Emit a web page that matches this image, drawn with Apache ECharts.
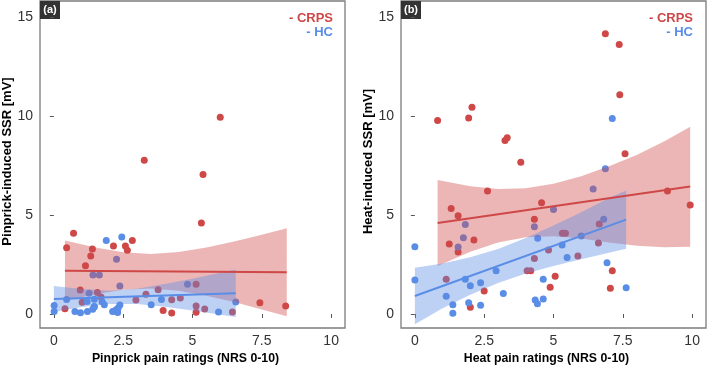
<!DOCTYPE html>
<html><head><meta charset="utf-8">
<script src="https://cdn.jsdelivr.net/npm/echarts@6/dist/echarts.min.js"></script>
<style>html,body{margin:0;padding:0;background:#fff}#c{width:709px;height:366px}</style>
</head><body><div id="c"></div>
<script>
// ---------- data ----------
const xTicks = [0, 2.5, 5, 7.5, 10];
const yTicks = [0, 5, 10, 15];
const groups = ['CRPS', 'HC'];

// Panel (a) Pinprick
const pinCrpsX = [0.46,0.71,0.40,1.33,1.39,1.14,0.95,1.02,1.57,1.70,2.15,2.58,2.65,2.83,2.96,3.26,3.32,3.76,3.94,4.25,4.25,4.56,5.13,5.13,5.13,5.32,5.38,5.44,6.00,6.44,7.43,8.36];
const pinCrpsY = [3.35,4.08,0.27,2.93,3.29,2.44,1.21,0.59,1.09,0.86,3.44,3.44,3.22,3.72,0.70,7.77,1.00,1.23,0.17,0.72,0.05,0.81,1.50,0.40,0.09,4.60,7.06,0.25,9.95,0.10,0.57,0.40];
const pinHcX = [0.01,0.01,0.46,0.76,0.96,1.21,1.20,1.27,1.40,1.46,1.46,1.45,1.41,1.64,1.74,1.82,1.89,2.26,2.38,2.45,2.12,2.20,2.26,2.32,2.38,2.30,3.51,3.88,4.82,5.94,6.56];
const pinHcY = [0.43,0.13,0.73,0.13,0.06,0.12,0.63,1.05,0.24,0.38,0.75,0.35,1.97,1.97,0.62,0.46,3.72,2.77,1.42,3.89,0.12,0.16,0.22,0.30,0.45,0.08,0.46,0.73,1.50,0.10,0.61];
// fit lines and confidence bands
const pinCrpsFitX = [0.4, 8.4];
const pinCrpsFitY = [2.19, 2.11];
const pinCrpsBandX  = [0.4, 1.5, 2.5, 3.5, 4.5, 5.5, 6.5, 7.5, 8.4];
const pinCrpsBandLo = [0.67, 1.00, 1.22, 1.29, 1.17, 0.92, 0.60, 0.23, -0.11];
const pinCrpsBandHi = [3.71, 3.36, 3.12, 3.03, 3.13, 3.36, 3.66, 4.01, 4.33];
const pinHcFitX = [0, 6.56];
const pinHcFitY = [0.76, 1.05];
const pinHcBandX  = [0, 1, 2, 3, 4, 5, 6.56];
const pinHcBandLo = [0.10, 0.35, 0.51, 0.50, 0.36, 0.18, -0.15];
const pinHcBandHi = [1.42, 1.26, 1.18, 1.28, 1.51, 1.78, 2.25];

// Panel (b) Heat
const heatCrpsX = [0.82,1.94,2.06,3.25,3.33,3.82,6.87,7.37,7.39,7.58,2.62,9.11,9.93,4.57,1.31,1.56,4.31,6.65,1.24,2.13,1.56,5.32,5.43,4.82,4.31,5.88,6.62,7.12,7.05,4.05,4.18,1.13,2.50,2.00,5.06,4.88];
const heatCrpsY = [9.79,9.91,10.45,8.78,8.91,7.67,14.17,13.63,11.09,8.10,6.22,6.22,5.51,5.63,5.34,4.97,4.79,4.55,3.54,3.74,3.13,4.08,4.08,3.24,2.80,2.93,3.59,2.19,1.30,2.19,2.19,1.75,1.16,0.34,1.91,1.35];
const heatHcX = [7.12,6.87,6.43,5.00,1.82,4.31,6.81,1.75,1.56,0.00,4.43,5.31,6.00,5.49,6.93,7.62,2.93,0.00,1.82,2.00,2.37,3.19,1.13,1.37,1.37,1.94,2.37,4.63,4.34,4.42,4.63];
const heatHcY = [9.89,7.35,6.32,5.29,4.53,4.41,4.79,3.86,3.39,3.40,3.83,3.49,3.94,2.85,2.59,1.33,2.19,1.72,1.75,1.43,1.58,1.03,0.89,0.46,0.03,0.57,0.44,1.75,0.71,0.52,0.76];
const heatCrpsFitX = [0.82, 9.93];
const heatCrpsFitY = [4.60, 6.45];
const heatCrpsBandX  = [0.82, 2, 3, 4, 5, 6, 7, 8, 9, 9.93];
const heatCrpsBandLo = [2.42, 3.15, 3.62, 3.88, 3.93, 3.82, 3.62, 3.45, 3.38, 3.40];
const heatCrpsBandHi = [6.78, 6.46, 6.32, 6.36, 6.59, 6.97, 7.47, 8.04, 8.73, 9.47];
const heatHcFitX = [0, 7.62];
const heatHcFitY = [0.91, 4.77];
const heatHcBandX  = [0, 1, 2, 3, 4, 5, 6, 7, 7.62];
const heatHcBandLo = [-0.52, 0.29, 0.97, 1.57, 2.05, 2.43, 2.77, 3.10, 3.30];
const heatHcBandHi = [2.34, 2.55, 2.87, 3.29, 3.84, 4.47, 5.15, 5.87, 6.24];

// ---------- style ----------
const RED = '#cf4848', BLUE = '#5a8de6';
const RED_BAND = 'rgba(207,72,72,0.40)', BLUE_BAND = 'rgba(90,141,230,0.40)';
const FONT = 'Liberation Sans, Arial, sans-serif';

const pair = (xs, ys) => xs.map((x, i) => [x, ys[i]]);

function bandSeries(idx, bx, lo, hi, color) {
  return {
    type: 'custom', xAxisIndex: idx, yAxisIndex: idx, z: 3, silent: true,
    data: bx.map((x, i) => [x, lo[i], hi[i]]),
    encode: { x: 0, y: [1, 2] },
    renderItem: function (params, api) {
      if (params.dataIndex !== 0) return null;
      const pts = [];
      for (let i = 0; i < bx.length; i++) pts.push(api.coord([bx[i], hi[i]]));
      for (let i = bx.length - 1; i >= 0; i--) pts.push(api.coord([bx[i], lo[i]]));
      return { type: 'polygon', shape: { points: pts }, style: { fill: color } };
    }
  };
}
function scatter(idx, xs, ys, color) {
  return { type: 'scatter', xAxisIndex: idx, yAxisIndex: idx, z: 2, symbolSize: 7,
    itemStyle: { color: color, opacity: 1 }, data: pair(xs, ys), silent: true };
}
function fit(idx, xs, ys, color) {
  return { type: 'line', xAxisIndex: idx, yAxisIndex: idx, z: 5, showSymbol: false, symbol: 'none',
    lineStyle: { color: color, width: 2 }, data: pair(xs, ys), silent: true };
}

function xAxis(idx, name) {
  return {
    type: 'value', gridIndex: idx, min: -0.5, max: 10.5,
    name: name, nameLocation: 'middle', nameGap: 24,
    nameTextStyle: { fontFamily: FONT, fontWeight: 'bold', fontSize: 12.3, color: '#000',
      padding: [0, 14, 0, 0] },
    axisLine: { show: false },
    splitLine: { show: false },
    axisTick: { show: true, length: 4, lineStyle: { color: '#555' }, customValues: xTicks },
    axisLabel: { fontFamily: FONT, fontSize: 14, color: '#333', margin: 6, customValues: xTicks,
      formatter: v => String(v) }
  };
}
function yAxis(idx, name) {
  return {
    type: 'value', gridIndex: idx, min: -0.71, max: 15.83,
    name: name, nameLocation: 'middle', nameGap: 22, nameRotate: 90,
    nameTextStyle: { fontFamily: FONT, fontWeight: 'bold', fontSize: 13, color: '#000',
      padding: [0, 0, 0, 6] },
    axisLine: { show: false },
    splitLine: { show: false },
    axisTick: { show: true, length: 4, lineStyle: { color: '#555' }, customValues: yTicks },
    axisLabel: { fontFamily: FONT, fontSize: 14, color: '#333', margin: 7, customValues: yTicks,
      formatter: v => String(v) }
  };
}

const gridA = { left: 40, top: 1, width: 305, height: 327 };
const gridB = { left: 401, top: 1, width: 305, height: 327 };
const gridStyle = { show: true, borderColor: '#7c7c7c', borderWidth: 1.3, backgroundColor: 'transparent',
  containLabel: false, outerBoundsMode: 'none' };

function panelLabel(left, text) {
  return { type: 'group', left: left, top: 1, children: [
    { type: 'rect', shape: { x: 0, y: 0, width: 20, height: 18 }, style: { fill: '#333' } },
    { type: 'text', x: 10, y: 9, style: { text: text, fill: '#fff', font: 'bold 11px ' + FONT,
      textAlign: 'center', textVerticalAlign: 'middle' } }
  ]};
}
function legendText(right, top, text, color) {
  return { type: 'text', right: right, top: top, style: { text: text, fill: color,
    font: 'bold 13px ' + FONT } };
}

const option = {
  animation: false,
  backgroundColor: '#fff',
  grid: [Object.assign({}, gridStyle, gridA), Object.assign({}, gridStyle, gridB)],
  xAxis: [xAxis(0, 'Pinprick pain ratings (NRS 0-10)'), xAxis(1, 'Heat pain ratings (NRS 0-10)')],
  yAxis: [yAxis(0, 'Pinprick-induced SSR [mV]'), yAxis(1, 'Heat-induced SSR [mV]')],
  series: [
    scatter(0, pinCrpsX, pinCrpsY, RED),
    scatter(0, pinHcX, pinHcY, BLUE),
    bandSeries(0, pinCrpsBandX, pinCrpsBandLo, pinCrpsBandHi, RED_BAND),
    bandSeries(0, pinHcBandX, pinHcBandLo, pinHcBandHi, BLUE_BAND),
    fit(0, pinCrpsFitX, pinCrpsFitY, RED),
    fit(0, pinHcFitX, pinHcFitY, BLUE),
    scatter(1, heatCrpsX, heatCrpsY, RED),
    scatter(1, heatHcX, heatHcY, BLUE),
    bandSeries(1, heatCrpsBandX, heatCrpsBandLo, heatCrpsBandHi, RED_BAND),
    bandSeries(1, heatHcBandX, heatHcBandLo, heatHcBandHi, BLUE_BAND),
    fit(1, heatCrpsFitX, heatCrpsFitY, RED),
    fit(1, heatHcFitX, heatHcFitY, BLUE)
  ],
  graphic: [
    panelLabel(40, '(a)'),
    panelLabel(401, '(b)'),
    legendText(709 - 333, 12, '- ' + groups[0], RED),
    legendText(709 - 333, 26, '- ' + groups[1], BLUE),
    legendText(709 - 693, 12, '- ' + groups[0], RED),
    legendText(709 - 693, 26, '- ' + groups[1], BLUE)
  ]
};
const chart = echarts.init(document.getElementById('c'), null, { renderer: 'canvas' });
chart.setOption(option);
</script>
</body></html>
